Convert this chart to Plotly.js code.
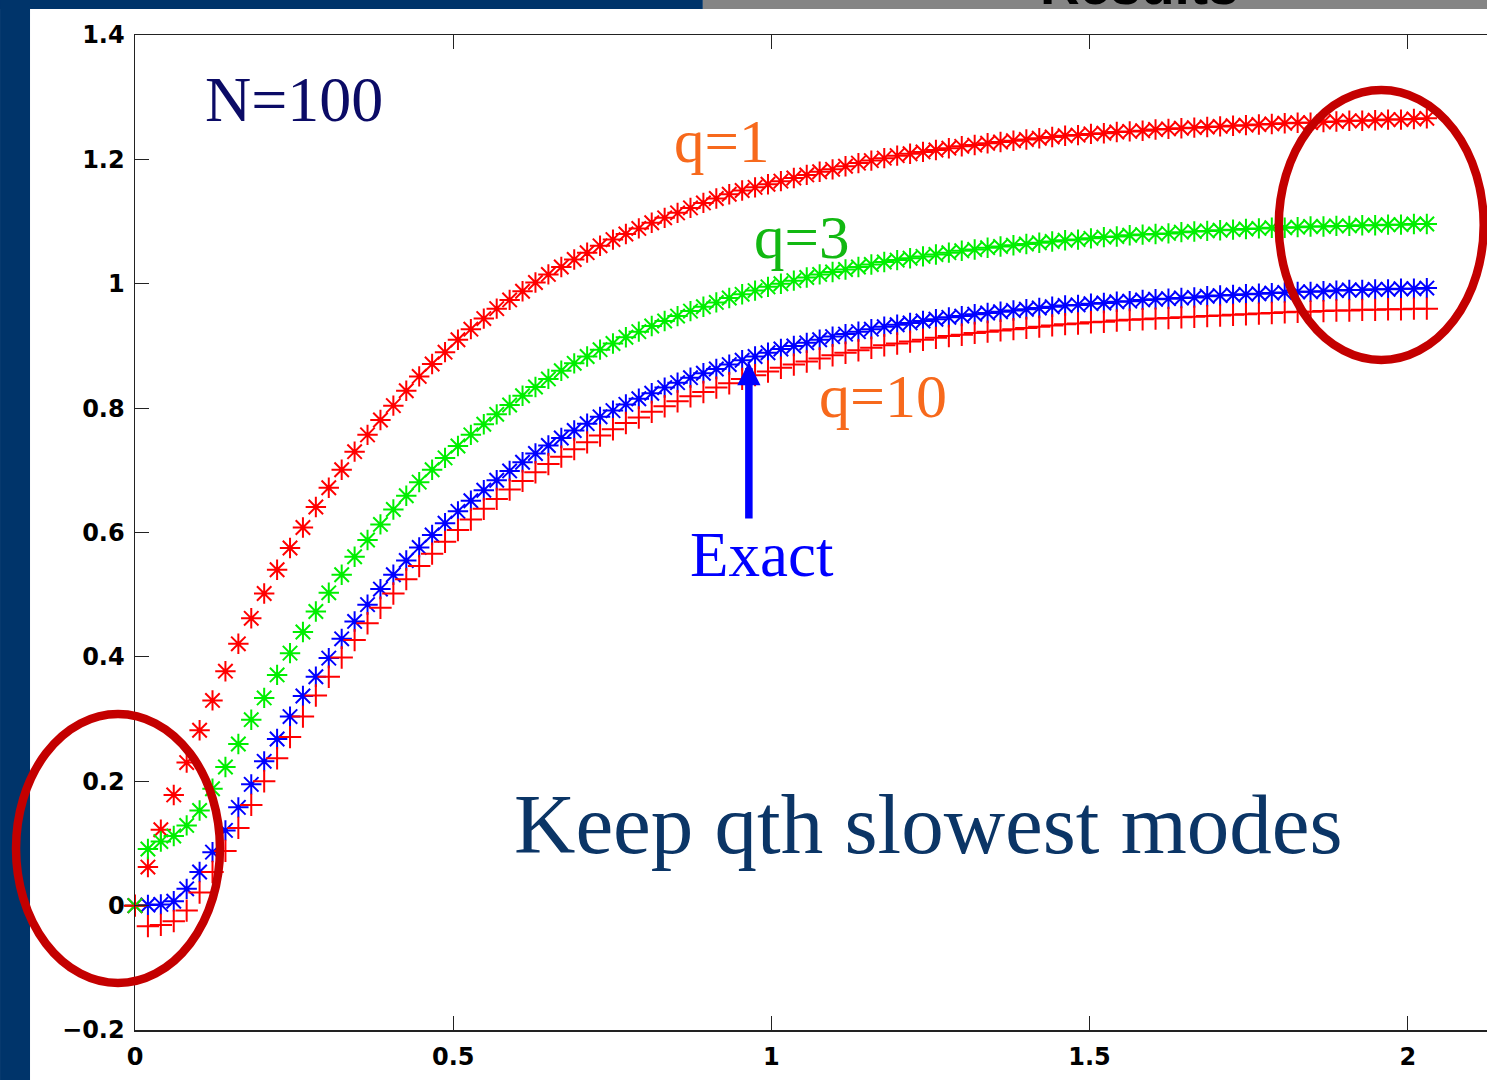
<!DOCTYPE html>
<html>
<head>
<meta charset="utf-8">
<script src="https://cdn.plot.ly/plotly-3.0.1.min.js"></script>
<style>
html,body{margin:0;padding:0;overflow:hidden;background:#ffffff;width:1487px;height:1080px;}
#chart{width:1600px;height:1080px;}
</style>
</head>
<body>
<div id="chart"></div>
<script>
// ---- data ----
const tValues = [0,0.0203,0.0406,0.0609,0.0812,0.1015,0.1218,0.1421,0.1624,0.1827,
0.203,0.2233,0.2436,0.2639,0.2842,0.3045,0.3248,0.3451,0.3654,0.3857,
0.406,0.4263,0.4466,0.4669,0.4872,0.5075,0.5278,0.5481,0.5684,0.5887,
0.609,0.6293,0.6496,0.6699,0.6902,0.7105,0.7308,0.7511,0.7714,0.7917,
0.812,0.8323,0.8526,0.8729,0.8932,0.9135,0.9338,0.9541,0.9744,0.9947,
1.015,1.0353,1.0556,1.0759,1.0962,1.1165,1.1368,1.1571,1.1774,1.1977,
1.218,1.2383,1.2586,1.2789,1.2992,1.3195,1.3398,1.3601,1.3804,1.4007,
1.421,1.4413,1.4616,1.4819,1.5022,1.5225,1.5428,1.5631,1.5834,1.6037,
1.624,1.6443,1.6646,1.6849,1.7052,1.7255,1.7458,1.7661,1.7864,1.8067,
1.827,1.8473,1.8676,1.8879,1.9082,1.9285,1.9488,1.9691,1.9894,2.0097,
2.03];

const exactValues = [0,0.001,0.002,0.007,0.027,0.054,0.086,0.121,0.158,0.195,
0.232,0.268,0.304,0.337,0.368,0.398,0.429,0.457,0.484,0.509,
0.532,0.555,0.576,0.596,0.615,0.634,0.651,0.668,0.684,0.699,
0.713,0.727,0.740,0.752,0.764,0.775,0.786,0.796,0.806,0.815,
0.824,0.833,0.841,0.849,0.856,0.863,0.870,0.877,0.883,0.889,
0.895,0.900,0.905,0.910,0.915,0.919,0.923,0.927,0.931,0.934,
0.937,0.940,0.943,0.946,0.948,0.951,0.953,0.955,0.957,0.959,
0.961,0.963,0.965,0.966,0.968,0.969,0.971,0.972,0.974,0.975,
0.976,0.977,0.978,0.980,0.981,0.982,0.983,0.984,0.985,0.986,
0.987,0.987,0.988,0.989,0.990,0.990,0.991,0.991,0.992,0.992,
0.993];

const q1Values = [0,0.062,0.122,0.178,0.230,0.282,0.330,0.377,0.421,0.462,
0.502,0.540,0.575,0.608,0.641,0.672,0.701,0.730,0.757,0.781,
0.804,0.828,0.851,0.871,0.890,0.910,0.927,0.944,0.960,0.974,
0.988,1.002,1.015,1.027,1.039,1.050,1.061,1.071,1.080,1.089,
1.098,1.106,1.114,1.122,1.130,1.137,1.144,1.150,1.155,1.160,
1.165,1.170,1.175,1.180,1.184,1.189,1.194,1.198,1.202,1.206,
1.209,1.212,1.215,1.218,1.221,1.223,1.226,1.228,1.230,1.232,
1.234,1.236,1.238,1.239,1.241,1.242,1.244,1.245,1.246,1.248,
1.249,1.250,1.251,1.252,1.253,1.254,1.255,1.256,1.257,1.258,
1.259,1.259,1.260,1.261,1.262,1.262,1.263,1.264,1.264,1.265,
1.266];

const q3Values = [0,0.091,0.103,0.112,0.129,0.153,0.188,0.223,0.260,0.299,
0.334,0.371,0.406,0.440,0.473,0.503,0.532,0.561,0.588,0.613,
0.637,0.659,0.681,0.701,0.720,0.739,0.757,0.774,0.790,0.805,
0.820,0.834,0.847,0.860,0.872,0.883,0.894,0.904,0.914,0.923,
0.932,0.940,0.948,0.956,0.963,0.970,0.977,0.983,0.989,0.995,
1.000,1.005,1.010,1.015,1.019,1.023,1.027,1.031,1.035,1.038,
1.041,1.044,1.047,1.050,1.053,1.055,1.058,1.060,1.062,1.064,
1.066,1.068,1.070,1.071,1.073,1.075,1.076,1.078,1.079,1.080,
1.081,1.083,1.084,1.085,1.086,1.087,1.088,1.089,1.090,1.090,
1.091,1.092,1.092,1.093,1.093,1.094,1.094,1.095,1.095,1.096,
1.096];

const q10Values = [0,-0.033,-0.031,-0.025,-0.008,0.021,0.054,0.088,0.125,0.162,
0.200,0.237,0.271,0.304,0.338,0.368,0.399,0.427,0.454,0.479,
0.502,0.525,0.546,0.566,0.585,0.604,0.621,0.638,0.654,0.669,
0.683,0.697,0.710,0.722,0.734,0.745,0.756,0.766,0.776,0.785,
0.794,0.803,0.811,0.819,0.826,0.833,0.840,0.847,0.853,0.859,
0.865,0.870,0.875,0.880,0.885,0.889,0.893,0.897,0.901,0.904,
0.907,0.910,0.913,0.916,0.918,0.921,0.923,0.925,0.927,0.929,
0.931,0.933,0.935,0.936,0.938,0.939,0.941,0.942,0.943,0.944,
0.945,0.946,0.947,0.948,0.949,0.950,0.951,0.952,0.953,0.954,
0.955,0.955,0.956,0.957,0.957,0.958,0.958,0.959,0.959,0.960,
0.960];

const xTickVals = [0, 0.5, 1, 1.5, 2];
const xTickText = ['0', '0.5', '1', '1.5', '2'];
const yTickVals = [-0.2, 0, 0.2, 0.4, 0.6, 0.8, 1, 1.2, 1.4];
const yTickText = ['\u22120.2', '0', '0.2', '0.4', '0.6', '0.8', '1', '1.2', '1.4'];

// ---- geometry ----
const FIG_W = 1600, FIG_H = 1080;
const ML = 135, MT = 35, MB = 50;
const XMAX = 2.2;
const PW = 636.5 * XMAX;
const MR = FIG_W - ML - PW;
const PH = FIG_H - MT - MB;
function pX(p) { return (p - ML) / PW; }
function pY(p) { return (MT + PH - p) / PH; }

function markerTrace(y, symbol, color, size) {
  return {
    x: tValues, y: y, type: 'scatter', mode: 'markers', cliponaxis: false,
    hoverinfo: 'skip', showlegend: false,
    marker: { symbol: symbol, size: size, color: color, line: { color: color, width: 2 } }
  };
}

const traces = [
  markerTrace(exactValues, 'asterisk-open', '#0000ff', 17),
  markerTrace(q1Values, 'asterisk-open', '#ff0000', 17),
  markerTrace(q3Values, 'asterisk-open', '#00ee00', 17),
  markerTrace(q10Values, 'cross-thin-open', '#ff0000', 16)
];

const serif = 'Liberation Serif, Times New Roman, serif';

function label(text, cx, cy, size, color) {
  return { xref: 'paper', yref: 'paper', x: pX(cx), y: pY(cy), xanchor: 'center', yanchor: 'middle',
    text: text, showarrow: false, font: { family: serif, size: size, color: color } };
}

const annotations = [
  label('N=100', 294, 100, 64, '#0b0b66'),
  label('q=1', 722, 142, 61, '#f7691c'),
  label('q=3', 802, 237, 61, '#12b812'),
  label('q=10', 883, 396, 62, '#f7691c'),
  label('Exact', 762, 555, 63, '#0000ff'),
  label('Keep qth slowest modes', 929, 824, 85, '#0b3566'),
  { xref: 'paper', yref: 'paper', x: pX(1140), y: pY(-15), xanchor: 'center', yanchor: 'middle',
    text: 'Results', showarrow: false,
    font: { family: 'Liberation Sans, Arial, sans-serif', size: 55, color: '#000000', weight: 'bold' } },
  { xref: 'paper', yref: 'paper', x: pX(749), y: pY(362), text: '', showarrow: true,
    axref: 'pixel', ayref: 'pixel', ax: 0, ay: 158,
    arrowhead: 2, arrowsize: 0.62, arrowwidth: 7.5, arrowcolor: '#0000ff', standoff: 0 }
];

const shapes = [
  { type: 'rect', xref: 'paper', yref: 'paper', x0: pX(0), x1: pX(30), y0: pY(0), y1: pY(1080),
    fillcolor: '#00346a', line: { width: 0 }, layer: 'below' },
  { type: 'rect', xref: 'paper', yref: 'paper', x0: pX(0), x1: pX(703), y0: pY(0), y1: pY(9),
    fillcolor: '#00346a', line: { width: 0 }, layer: 'below' },
  { type: 'rect', xref: 'paper', yref: 'paper', x0: pX(703), x1: pX(1600), y0: pY(0), y1: pY(9),
    fillcolor: '#858585', line: { width: 0 }, layer: 'below' },
  { type: 'circle', xref: 'paper', yref: 'paper', x0: pX(16), x1: pX(220), y0: pY(983), y1: pY(714),
    line: { color: '#c40000', width: 8.5 }, layer: 'above' },
  { type: 'circle', xref: 'paper', yref: 'paper', x0: pX(1279), x1: pX(1484), y0: pY(360), y1: pY(90),
    line: { color: '#c40000', width: 8.5 }, layer: 'above' }
];

const tickFont = { family: 'DejaVu Sans, sans-serif', size: 24, color: '#000000', weight: 'bold' };

const layout = {
  width: FIG_W, height: FIG_H,
  margin: { l: ML, r: MR, t: MT, b: MB, pad: 0 },
  paper_bgcolor: '#ffffff', plot_bgcolor: '#ffffff',
  showlegend: false,
  xaxis: {
    range: [0, XMAX], tickmode: 'array', tickvals: xTickVals, ticktext: xTickText,
    ticks: 'inside', ticklen: 14, tickwidth: 1.2, tickcolor: '#222222',
    showline: true, linecolor: '#222222', linewidth: 1.5, mirror: 'ticks',
    showgrid: false, zeroline: false, tickfont: tickFont, ticklabelstandoff: 5
  },
  yaxis: {
    range: [-0.2, 1.4], tickmode: 'array', tickvals: yTickVals, ticktext: yTickText,
    ticks: 'inside', ticklen: 14, tickwidth: 1.2, tickcolor: '#222222',
    showline: true, linecolor: '#222222', linewidth: 1.5, mirror: 'ticks',
    showgrid: false, zeroline: false, tickfont: tickFont, ticklabelstandoff: 4
  },
  shapes: shapes,
  annotations: annotations
};

Plotly.newPlot('chart', traces, layout, { staticPlot: true, displayModeBar: false });
</script>
</body>
</html>
